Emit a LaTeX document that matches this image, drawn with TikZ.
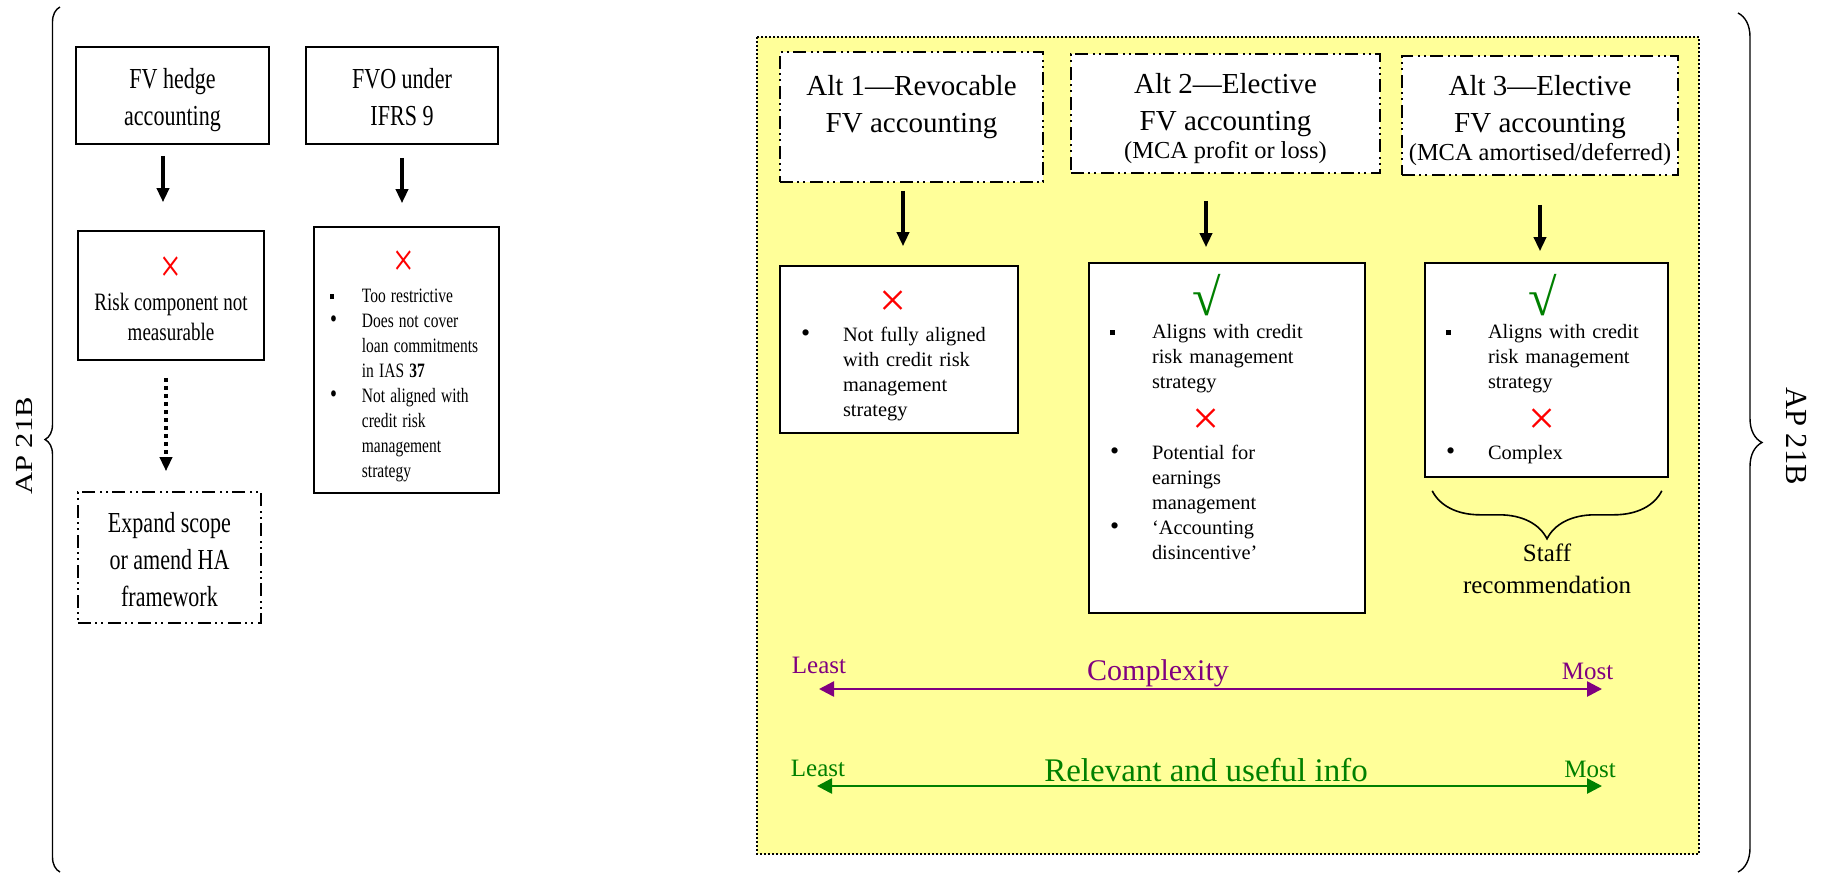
\documentclass[tikz,border=0pt]{standalone}
\usepackage{fontspec}
\setmainfont{Liberation Serif}
\usepackage{graphicx}
\usetikzlibrary{arrows.meta,decorations.pathreplacing}

\definecolor{paleyellow}{HTML}{FFFF99}
\definecolor{darkpurple}{HTML}{800080}
\definecolor{darkgreen}{HTML}{008000}

\newcommand{\narrowtext}[1]{\scalebox{0.76}[1]{#1}}
\newcommand{\toprow}{\rule{0pt}{18.75pt}}
\newcommand{\okmark}{\smash{\raisebox{-2.4pt}{\fontsize{26}{26}\selectfont\color{darkgreen}√}}}
\newcommand{\nomark}{\smash{\raisebox{-1.75pt}{\fontsize{24}{24}\selectfont\color{red}×}}}
\newcommand{\sqbul}{\raisebox{0.3ex}{\rule{2.4pt}{2.4pt}}}
\newcommand{\rdbul}{{\fontsize{13}{12}\selectfont•}}

\tikzset{
	plainbox/.style={draw, fill=white, line width=0.8pt, inner sep=0pt, align=center},
	altbox/.style={plainbox, dash pattern=on 6.5pt off 2pt on 1pt off 2pt on 1pt off 2.5pt},
	listbox/.style={plainbox, align=left, inner xsep=10.5pt},
	titlefont/.style={font=\fontsize{14.5}{18.5}\selectfont},
	smallfont/.style={font=\fontsize{10.2}{12.5}\selectfont},
	downarrow/.style={line width=1.7pt, -{Triangle[length=7pt,width=6pt]}},
	scalearrow/.style={line width=1.3pt, {Triangle[length=7.5pt,width=7.5pt]}-{Triangle[length=7.5pt,width=7.5pt]}},
	curly/.style={decorate, line width=0.8pt},
}

\begin{document}
\begin{tikzpicture}[x=0.5pt, y=-0.5pt]
	\useasboundingbox (0,0) rectangle (1848,875);

	% alternatives panel
	\draw[fill=paleyellow, line width=1pt, dash pattern=on 1pt off 1pt] (757,37) rectangle (1699,854);

	\node[rotate=90, font=\fontsize{15.3}{18}\selectfont] (apleft) at (24,446) {\scalebox{1}[0.8]{AP 21B}};
	\node[rotate=-90, font=\fontsize{15.3}{18}\selectfont] (apright) at (1797,436) {AP 21B};

	\node[plainbox, titlefont, minimum width=96.5pt, minimum height=48.5pt] (hedge) at (172.5,95.5)
		{\narrowtext{\begin{tabular}{@{}c@{}}\rule{0pt}{17pt}FV hedge\\accounting\end{tabular}}};
	\node[plainbox, titlefont, minimum width=96pt, minimum height=48.5pt] (fvo) at (402,95.5)
		{\narrowtext{\begin{tabular}{@{}c@{}}\rule{0pt}{17pt}FVO under\\IFRS 9\end{tabular}}};

	\node[plainbox, font=\fontsize{12.5}{15}\selectfont, minimum width=93pt, minimum height=64.5pt] (risk) at (171,295.5)
		{\narrowtext{\begin{tabular}{@{}c@{}}\toprow\nomark\\[1pt]Risk component not\\measurable\end{tabular}}};
	\node[listbox, smallfont, inner xsep=8pt, text width=76.5pt, minimum height=133pt] (fvores) at (406.5,360)
		{\narrowtext{\begin{tabular}{@{}p{21pt}@{}l@{}}
			\multicolumn{2}{c}{\toprow\nomark}\\[2pt]
			\sqbul & Too restrictive\\
			\rdbul & Does not cover\\
			& loan commitments\\
			& in IAS \textbf{37}\\
			\rdbul & Not aligned with\\
			& credit risk\\
			& management\\
			& strategy
		\end{tabular}}};

	\node[altbox, titlefont, minimum width=91.5pt, minimum height=65.5pt] (expand) at (169.5,557.5)
		{\narrowtext{\begin{tabular}{@{}c@{}}\rule{0pt}{18pt}Expand scope\\or amend HA\\framework\end{tabular}}};

	\node[altbox, titlefont, minimum width=131.5pt, minimum height=65pt] (alt1) at (911.5,117)
		{\rule{0pt}{15pt}Alt 1—Revocable\\FV accounting\\[-4.5pt]{\fontsize{12.2}{15}\selectfont\strut}};
	\node[altbox, titlefont, minimum width=154.5pt, minimum height=59.5pt] (alt2) at (1225.5,113.5)
		{\rule{0pt}{15pt}Alt 2—Elective\\FV accounting\\[-4.5pt]{\fontsize{12.2}{15}\selectfont(MCA profit or loss)}};
	\node[altbox, titlefont, minimum width=138pt, minimum height=59.5pt] (alt3) at (1540,115.5)
		{\rule{0pt}{15pt}Alt 3—Elective\\FV accounting\\[-4.5pt]{\fontsize{12.2}{15}\selectfont(MCA amortised/deferred)}};

	\node[listbox, smallfont, text width=98pt, minimum height=83.5pt] (res1) at (899,349.5)
		{\begin{tabular}{@{}p{21pt}@{}l@{}}
			\multicolumn{2}{c}{\toprow\nomark}\\[2pt]
			\rdbul & Not fully aligned\\
			& with credit risk\\
			& management\\
			& strategy
		\end{tabular}};
	\node[listbox, smallfont, text width=117pt, minimum height=175pt] (res2) at (1227,438)
		{\begin{tabular}{@{}p{21pt}@{}l@{}}
			\multicolumn{2}{c}{\toprow\okmark}\\[1pt]
			\sqbul & Aligns with credit\\
			& risk management\\
			& strategy\\[9pt]
			\multicolumn{2}{c}{\nomark}\\[1.5pt]
			\rdbul & Potential for\\
			& earnings\\
			& management\\
			\rdbul & ‘Accounting\\
			& disincentive’\\[18pt]
		\end{tabular}};
	\node[listbox, smallfont, text width=100.5pt, minimum height=107pt] (res3) at (1546.5,370)
		{\begin{tabular}{@{}p{21pt}@{}l@{}}
			\multicolumn{2}{c}{\toprow\okmark}\\[1pt]
			\sqbul & Aligns with credit\\
			& risk management\\
			& strategy\\[9pt]
			\multicolumn{2}{c}{\nomark}\\[1.5pt]
			\rdbul & Complex
		\end{tabular}};

	\node[font=\fontsize{12.5}{16}\selectfont, align=center] (staff) at (1547,569) {Staff\\recommendation};

	\draw[downarrow, shorten <=5.5pt, shorten >=14pt] ([xshift=-4.75pt]hedge.south) -- ([xshift=-4.75pt]hedge.south |- risk.north);
	\draw[downarrow, shorten <=6.5pt, shorten >=11.5pt] (fvo.south) -- (fvo.south |- fvores.north);
	\draw[downarrow, dash pattern=on 2pt off 2pt, shorten <=8.5pt, shorten >=10pt] ([xshift=-2.5pt]risk.south) -- ([xshift=-2.5pt]risk.south |- expand.north);
	\draw[downarrow, shorten <=4pt, shorten >=9.5pt] ([xshift=-4.25pt]alt1.south) -- ([xshift=-4.25pt]alt1.south |- res1.north);
	\draw[downarrow, shorten <=13.5pt, shorten >=7.5pt] ([xshift=-9.75pt]alt2.south) -- ([xshift=-9.75pt]alt2.south |- res2.north);
	\draw[downarrow, shorten <=14.5pt, shorten >=5.5pt] (alt3.south) -- (alt3.south |- res3.north);

	\draw[curly, decoration={brace, amplitude=24pt}] ([xshift=-3.5pt, yshift=-6.5pt]res3.south east) -- ([xshift=4pt, yshift=-6.5pt]res3.south west);
	\draw[curly, line width=0.7pt, decoration={brace, amplitude=7.5pt}] (60,872) -- (60,7);
	\draw[curly, line width=0.7pt, decoration={brace, amplitude=12pt}] (1738,13) -- (1738,872);

	% scales
	\coordinate (cxleft) at (819,689);
	\coordinate (cxright) at (1602,689);
	\draw[scalearrow, darkpurple] (cxleft) -- (cxright);
	\node[anchor=base, text=darkpurple, font=\fontsize{12.5}{15}\selectfont] (cxleast) at (819,673) {Least};
	\node[anchor=base, text=darkpurple, font=\fontsize{12.5}{15}\selectfont] (cxmost) at (1587.5,679) {Most};
	\node[anchor=base, text=darkpurple, font=\fontsize{15}{18}\selectfont] (cxlabel) at (1158,680) {Complexity};

	\coordinate (rlleft) at (817,786);
	\coordinate (rlright) at (1602,786);
	\draw[scalearrow, darkgreen] (rlleft) -- (rlright);
	\node[anchor=base, text=darkgreen, font=\fontsize{12.5}{15}\selectfont] (rlleast) at (818,776) {Least};
	\node[anchor=base, text=darkgreen, font=\fontsize{12.5}{15}\selectfont] (rlmost) at (1590,777) {Most};
	\node[anchor=base, text=darkgreen, font=\fontsize{16.5}{19}\selectfont] (rllabel) at (1206,781) {Relevant and useful info};
\end{tikzpicture}
\end{document}
